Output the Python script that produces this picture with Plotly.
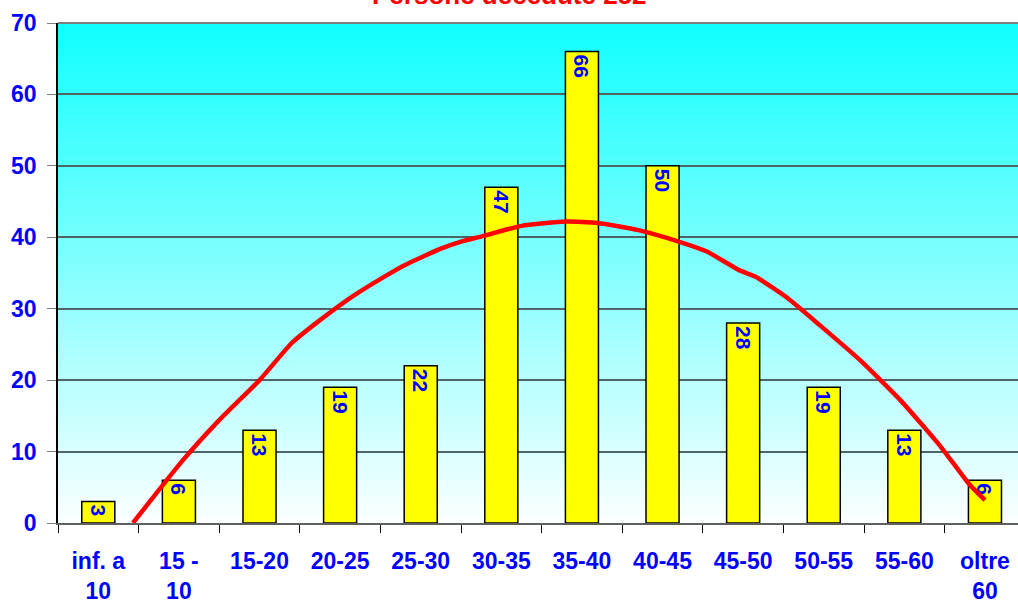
# Persone decedute per fascia d'eta - bar chart with polynomial trend line
import plotly.graph_objects as go

# --- data ---
categories = ["inf. a<br>10", "15 -<br>10", "15-20", "20-25", "25-30", "30-35",
              "35-40", "40-45", "45-50", "50-55", "55-60", "oltre<br>60"]
deaths = [3, 6, 13, 19, 22, 47, 66, 50, 28, 19, 13, 6]

# trend line (x in category units, 0 = first category)
trend_x = [0.43, 0.68, 1.05, 1.5, 2.0, 2.4, 2.75, 3.15, 3.55, 3.8, 4.25, 4.5,
           4.75, 5.25, 5.8, 6.2, 6.7, 7.2, 7.55, 7.95, 8.15, 8.55, 8.95, 9.45,
           9.95, 10.45, 10.8, 11.0]
trend_y = [0, 3.6, 8.8, 14.4, 20.0, 25.2, 28.4, 31.7, 34.5, 36.1, 38.4, 39.4,
           40.1, 41.6, 42.2, 42.0, 41.0, 39.4, 38.0, 35.4, 34.5, 31.5, 27.7, 22.8,
           17.2, 10.7, 5.5, 3.2]

title = "Persone decedute 252"

FONT = "Liberation Sans, Arial, sans-serif"
BLUE = "#0000FF"
x_range = [-0.5, 11.41]

fig = go.Figure()

fig.add_trace(go.Bar(
    x=categories, y=deaths,
    width=0.41,
    marker=dict(color="#FFFF00", line=dict(color="black", width=1.5)),
    text=deaths, textposition="inside", insidetextanchor="end", textangle=90,
    textfont=dict(family=FONT, size=21, color=BLUE, weight="bold"),
    cliponaxis=False,
))

fig.add_trace(go.Scatter(
    x=trend_x, y=trend_y, xaxis="x2", mode="lines",
    line=dict(color="#FF0000", width=4.5, shape="spline", smoothing=0.5),
))

# vertical gradient background (cyan at top -> almost white at bottom)
n = 60
shapes = []
for i in range(n):
    t = i / (n - 1)          # 0 = bottom, 1 = top
    r = int(250 - t * 232)
    shapes.append(dict(type="rect", xref="paper", yref="paper",
                       x0=0, x1=1, y0=i / n, y1=(i + 1) / n + 0.002,
                       fillcolor=f"rgb({r},255,255)", line=dict(width=0), layer="below"))
# top border
shapes.append(dict(type="line", xref="paper", yref="paper", x0=0, x1=1, y0=1, y1=1,
                   line=dict(color="#808080", width=2)))

fig.update_layout(
    width=1018, height=602,
    margin=dict(l=58, r=0, t=23, b=79),
    paper_bgcolor="white", plot_bgcolor="white",
    showlegend=False,
    shapes=shapes,
    xaxis=dict(
        type="category", range=x_range, automargin=False,
        tickson="boundaries", ticks="outside", ticklen=8, tickcolor="black", tickwidth=1,
        showgrid=False, showline=True, linecolor="#606060", linewidth=2,
        tickfont=dict(family=FONT, size=23, color=BLUE, weight="bold"),
        ticklabelstandoff=16,
    ),
    xaxis2=dict(overlaying="x", range=x_range, visible=False),
    yaxis=dict(
        range=[0, 70], dtick=10, ticks="outside", ticklen=9, tickcolor="#808080",
        automargin=False,
        showgrid=True, gridcolor="#4f6464", gridwidth=1.5,
        showline=True, linecolor="black", linewidth=1.5,
        zeroline=False,
        tickfont=dict(family=FONT, size=23, color=BLUE, weight="bold"),
        ticklabelstandoff=6,
    ),
    annotations=[dict(
        text=title, xref="paper", yref="paper", x=0.47, y=1.022,
        xanchor="center", yanchor="bottom", showarrow=False,
        font=dict(family=FONT, size=26, color="#FF0000", weight="bold"),
    )],
)

# drop the browser's default 8px page margin so the figure fills the window
fig.write_html("out.html", config={"displayModeBar": False},
               post_script="document.body.style.margin='0';")
